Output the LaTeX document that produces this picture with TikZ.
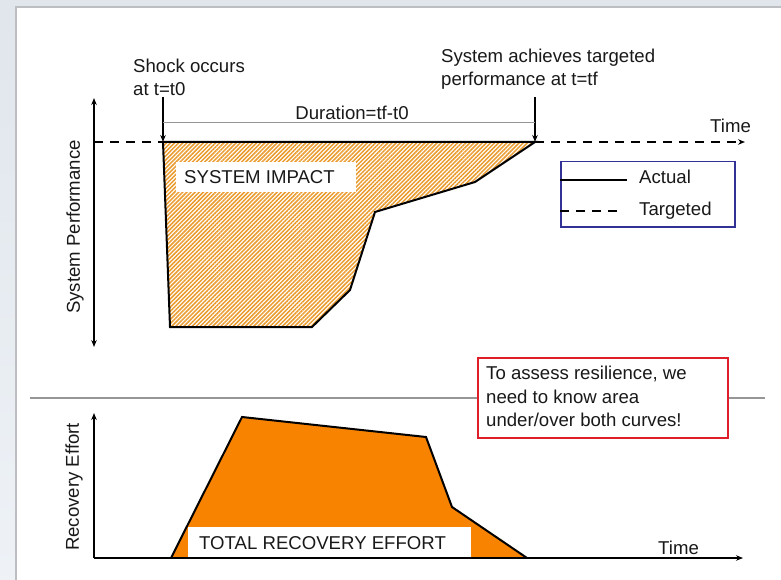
\documentclass[tikz,border=0pt]{standalone}
\usepackage{fontspec}
\setmainfont{Liberation Sans}
\usetikzlibrary{arrows.meta,patterns.meta}

\definecolor{slidebg}{RGB}{224,230,236}
\definecolor{slidelight}{RGB}{238,242,247}
\definecolor{panelline}{RGB}{188,190,194}
\definecolor{hatchorange}{RGB}{234,155,45}
\definecolor{effortorange}{RGB}{247,131,0}
\definecolor{legendblue}{RGB}{50,50,150}
\definecolor{notered}{RGB}{222,30,40}
\definecolor{rulegray}{RGB}{150,150,150}
\definecolor{ink}{RGB}{25,25,25}

\begin{document}
\begin{tikzpicture}[x=1pt,y=-1pt,
  txt/.style={font=\fontsize{18.6}{22.5}\selectfont, text=ink, inner sep=0pt},
  curve/.style={line width=2pt, line join=miter, draw=black},
  tip/.style={-{Stealth[length=7pt,width=5.5pt]}},
  axis/.style={line width=1.8pt, tip},
  target/.style={line width=1.8pt, dash pattern=on 9pt off 7pt},
  marker/.style={line width=1.5pt, tip},
]
\useasboundingbox (0,0) rectangle (781,580);

% slide background and white panel
\fill[slidebg] (0,0) rectangle (781,580);
\shade[top color=slidebg, bottom color=slidelight] (0,7) rectangle (16,580);
\fill[white] (16,7) rectangle (781,580);
\draw[panelline, line width=1.5pt] (16,580) -- (16,7) -- (781,7);

% ---------- system performance chart ----------
\coordinate (pa top) at (94,98);
\coordinate (pa bot) at (94,347);
\coordinate (tstart) at (94,142);
\coordinate (t0) at (163,142);
\coordinate (tf) at (535,142);
\coordinate (tend) at (745,142);
\coordinate (p1) at (475,182);
\coordinate (p2) at (375,212);
\coordinate (p3) at (350,290);
\coordinate (p4) at (312,327);
\coordinate (p5) at (170,327);

% hatched impact area
\fill[pattern={Lines[angle=45,distance=2.9pt,line width=1.5pt]}, pattern color=hatchorange]
  (t0) -- (tf) -- (p1) -- (p2) -- (p3) -- (p4) -- (p5) -- cycle;
\node[fill=white, inner sep=0pt, minimum width=180pt, minimum height=30pt, anchor=north west]
  (impactbox) at (176,162) {};
\node[txt, anchor=base west] (impact) at (184,183) {SYSTEM IMPACT};
\draw[curve] (t0) -- (tf) -- (p1) -- (p2) -- (p3) -- (p4) -- (p5) -- cycle;

% axes and targeted level
\draw[line width=1.8pt, {Stealth[length=7pt,width=5.5pt]}-{Stealth[length=7pt,width=5.5pt]}] (pa top) -- (pa bot);
\draw[target] (tstart) -- (t0);
\draw[target, tip] (tf) -- (tend);
\node[txt, anchor=base west] (time1) at (710,133) {Time};
\node[txt, rotate=90] (perf) at (75,227) {System Performance};

% event markers and duration
\node[txt, anchor=north west, align=left] (shock) at (133,59) {Shock occurs\\at t=t0};
\node[txt, anchor=north west, align=left] (achieve) at (441,49) {System achieves targeted\\performance at t=tf};
\coordinate (m0) at (163,97);
\coordinate (mf) at (535,97);
\draw[marker] (m0) -- (t0);
\draw[marker] (mf) -- (tf);
\coordinate (dl) at (163,122.5);
\coordinate (dr) at (535,122.5);
\draw[rulegray, line width=1.5pt] (dl) -- (dr);
\node[txt, anchor=base] (duration) at (352,119.5) {Duration=tf-t0};

% legend
\node[draw=legendblue, line width=1.5pt, inner sep=0pt, minimum width=174pt, minimum height=65pt, anchor=north west]
  (legend) at (560,161) {};
\coordinate (la) at (560,180);
\coordinate (lb) at (627,180);
\coordinate (lc) at (560,211);
\coordinate (ld) at (622,211);
\draw[line width=1.8pt] (la) -- (lb);
\draw[line width=1.8pt, dash pattern=on 9pt off 7pt] (lc) -- (ld);
\node[txt, anchor=base west] (actual) at (639,184) {Actual};
\node[txt, anchor=base west] (targeted) at (639,215) {Targeted};

% separator and note
\coordinate (sl) at (30,398);
\coordinate (sr) at (765,398);
\draw[rulegray, line width=1.5pt] (sl) -- (sr);
\node[draw=notered, fill=white, line width=2pt, inner sep=0pt, minimum width=250pt, minimum height=80pt, anchor=north west]
  (note) at (477,357) {};
\node[txt, anchor=north west, align=left, font=\fontsize{18.6}{23.5}\selectfont] (notetext) at (486,366)
  {To assess resilience, we\\need to know area\\under/over both curves!};

% ---------- recovery effort chart ----------
\coordinate (re top) at (94,413);
\coordinate (origin) at (94,558);
\coordinate (re end) at (743,558);
\coordinate (e0) at (171,558);
\coordinate (e1) at (242,417);
\coordinate (e2) at (426,437);
\coordinate (e3) at (452,507);
\coordinate (e4) at (527,558);
\fill[effortorange] (e0) -- (e1) -- (e2) -- (e3) -- (e4) -- cycle;
\draw[curve] (e0) -- (e1) -- (e2) -- (e3) -- (e4);
\node[fill=white, inner sep=0pt, minimum width=283pt, minimum height=31pt, anchor=north west]
  (totalbox) at (188,527) {};
\node[txt, anchor=base west] (total) at (199,549) {TOTAL RECOVERY EFFORT};
\draw[axis] (origin) -- (re top);
\draw[axis] (origin) -- (re end);
\node[txt, anchor=base west] (time2) at (658,554) {Time};
\node[txt, rotate=90] (effort) at (74,487) {Recovery Effort};
\end{tikzpicture}
\end{document}
